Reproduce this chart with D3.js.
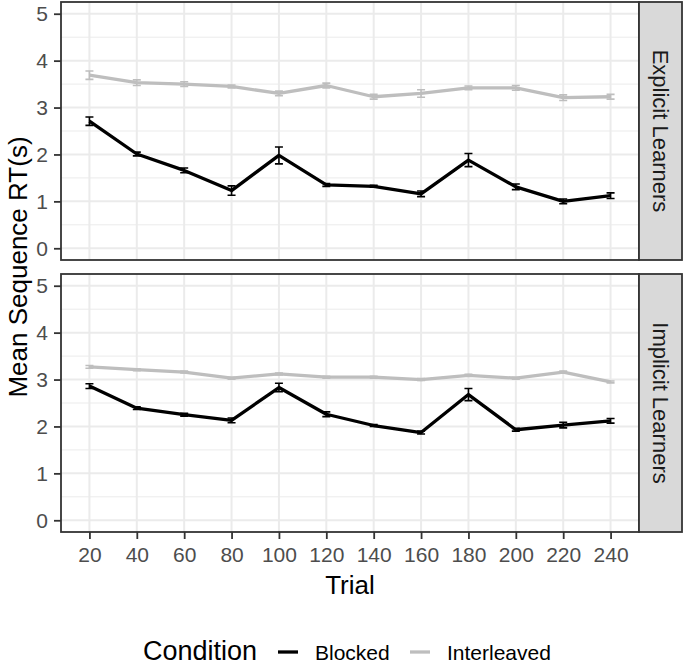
<!DOCTYPE html>
<html>
<head>
<meta charset="utf-8">
<script src="https://cdn.jsdelivr.net/npm/d3@7"></script>
<style>
  html, body { margin: 0; padding: 0; background: #fff; }
  svg { display: block; }
  text { font-family: "Liberation Sans", Arial, Helvetica, sans-serif; }
</style>
</head>
<body>
<svg id="chart" width="685" height="667"></svg>
<script>
// ---------------- data ----------------
const trials = [20, 40, 60, 80, 100, 120, 140, 160, 180, 200, 220, 240];
const panelNames = ["Explicit Learners", "Implicit Learners"];
const conditions = ["Blocked", "Interleaved"];
const yTicks = [0, 1, 2, 3, 4, 5];

const explicitBlocked     = [2.71, 2.01, 1.66, 1.23, 1.98, 1.35, 1.32, 1.16, 1.88, 1.31, 1.00, 1.12];
const explicitBlockedSE   = [0.09, 0.04, 0.05, 0.10, 0.18, 0.03, 0.02, 0.06, 0.14, 0.06, 0.05, 0.06];
const explicitInterleaved   = [3.69, 3.53, 3.50, 3.45, 3.30, 3.47, 3.23, 3.30, 3.42, 3.42, 3.21, 3.23];
const explicitInterleavedSE = [0.09, 0.06, 0.05, 0.03, 0.05, 0.05, 0.05, 0.08, 0.04, 0.05, 0.06, 0.05];

const implicitBlocked     = [2.86, 2.39, 2.25, 2.13, 2.83, 2.26, 2.02, 1.87, 2.68, 1.93, 2.03, 2.12];
const implicitBlockedSE   = [0.05, 0.03, 0.03, 0.05, 0.09, 0.05, 0.02, 0.03, 0.13, 0.03, 0.06, 0.05];
const implicitInterleaved   = [3.27, 3.21, 3.16, 3.03, 3.12, 3.05, 3.05, 3.00, 3.09, 3.03, 3.16, 2.95];
const implicitInterleavedSE = [0.03, 0.02, 0.02, 0.02, 0.02, 0.02, 0.02, 0.02, 0.02, 0.02, 0.02, 0.02];

// ---------------- layout ----------------
const W = 685, H = 667;
const left = 61, right = 639, stripW = 43;
const panelTops = [2, 274];
const panelH = 258;
const colors = { Blocked: "#000000", Interleaved: "#bebebe" };

const seriesByPanel = [
  [
    { cond: "Blocked", mean: explicitBlocked, se: explicitBlockedSE },
    { cond: "Interleaved", mean: explicitInterleaved, se: explicitInterleavedSE }
  ],
  [
    { cond: "Blocked", mean: implicitBlocked, se: implicitBlockedSE },
    { cond: "Interleaved", mean: implicitInterleaved, se: implicitInterleavedSE }
  ]
];

const svg = d3.select("#chart");

const x = d3.scalePoint().domain(trials).range([left, right]).padding(0.6);
const minorY = [0.5, 1.5, 2.5, 3.5, 4.5];

panelNames.forEach((name, pi) => {
  const top = panelTops[pi], bottom = top + panelH;
  const y = d3.scaleLinear().domain([-0.25, 5.25]).range([bottom, top]);
  const g = svg.append("g");

  g.append("rect").attr("x", left).attr("y", top).attr("width", right - left).attr("height", panelH)
    .attr("fill", "#ffffff");

  g.selectAll(".minor").data(minorY).enter().append("line")
    .attr("x1", left).attr("x2", right)
    .attr("y1", d => y(d)).attr("y2", d => y(d))
    .attr("stroke", "#ebebeb").attr("stroke-width", 1);
  g.selectAll(".majorY").data(yTicks).enter().append("line")
    .attr("x1", left).attr("x2", right)
    .attr("y1", d => y(d)).attr("y2", d => y(d))
    .attr("stroke", "#ebebeb").attr("stroke-width", 2);
  g.selectAll(".majorX").data(trials).enter().append("line")
    .attr("x1", d => x(d)).attr("x2", d => x(d))
    .attr("y1", top).attr("y2", bottom)
    .attr("stroke", "#ebebeb").attr("stroke-width", 2);

  const line = d3.line().x(d => x(d.t)).y(d => y(d.m));
  seriesByPanel[pi].slice().reverse().forEach(s => {
    const pts = trials.map((t, i) => ({ t, m: s.mean[i], e: s.se[i] }));
    g.append("path").datum(pts)
      .attr("d", line).attr("fill", "none")
      .attr("stroke", colors[s.cond]).attr("stroke-width", 3.3)
      .attr("stroke-linejoin", "round");
    const eb = g.append("g");
    pts.forEach(p => {
      const cx = x(p.t), y1 = y(p.m + p.e), y2 = y(p.m - p.e);
      eb.append("path")
        .attr("d", `M${cx - 4},${y1}H${cx + 4}M${cx},${y1}V${y2}M${cx - 4},${y2}H${cx + 4}`)
        .attr("fill", "none").attr("stroke", colors[s.cond]).attr("stroke-width", 1.6);
    });
  });

  g.append("rect").attr("x", left).attr("y", top).attr("width", right - left).attr("height", panelH)
    .attr("fill", "none").attr("stroke", "#333333").attr("stroke-width", 1.8);

  g.append("rect").attr("x", right).attr("y", top).attr("width", stripW).attr("height", panelH)
    .attr("fill", "#d9d9d9").attr("stroke", "#333333").attr("stroke-width", 1.8);
  g.append("text")
    .attr("transform", `translate(${right + stripW / 2},${top + panelH / 2}) rotate(90)`)
    .attr("text-anchor", "middle").attr("dominant-baseline", "central")
    .attr("font-size", 22).attr("fill", "#1a1a1a").text(name);

  const ya = svg.append("g").attr("transform", `translate(${left},0)`)
    .call(d3.axisLeft(y).tickValues(yTicks).tickSize(7).tickPadding(6).tickFormat(d3.format("d")));
  ya.select(".domain").remove();
  ya.selectAll(".tick line").attr("stroke", "#333333").attr("stroke-width", 1.8);
  ya.selectAll(".tick text").attr("font-size", 21).attr("fill", "#4d4d4d")
    .attr("font-family", "'Liberation Sans', Arial, sans-serif");

  if (pi === 1) {
    const xa = svg.append("g").attr("transform", `translate(0,${bottom})`)
      .call(d3.axisBottom(x).tickSize(7).tickPadding(8));
    xa.select(".domain").remove();
    xa.selectAll(".tick line").attr("stroke", "#333333").attr("stroke-width", 1.8);
    xa.selectAll(".tick text").attr("font-size", 21).attr("fill", "#4d4d4d")
      .attr("font-family", "'Liberation Sans', Arial, sans-serif");
  }
});

svg.append("text")
  .attr("transform", `translate(18,${(panelTops[0] + panelTops[1] + panelH) / 2}) rotate(-90)`)
  .attr("text-anchor", "middle").attr("dominant-baseline", "central")
  .attr("font-size", 26).attr("fill", "#000").text("Mean Sequence RT(s)");
svg.append("text")
  .attr("x", (left + right) / 2).attr("y", 594)
  .attr("text-anchor", "middle")
  .attr("font-size", 26).attr("fill", "#000").text("Trial");

const lg = svg.append("g");
lg.append("text").attr("x", 143).attr("y", 660).attr("font-size", 27).attr("fill", "#000").text("Condition");
const keyX = [278, 410];
const labX = [315, 447];
conditions.forEach((c, i) => {
  lg.append("line").attr("x1", keyX[i]).attr("x2", keyX[i] + 20)
    .attr("y1", 652).attr("y2", 652)
    .attr("stroke", colors[c]).attr("stroke-width", 3.3);
  lg.append("text").attr("x", labX[i]).attr("y", 660).attr("font-size", 21).attr("fill", "#000").text(c);
});
</script>
</body>
</html>
